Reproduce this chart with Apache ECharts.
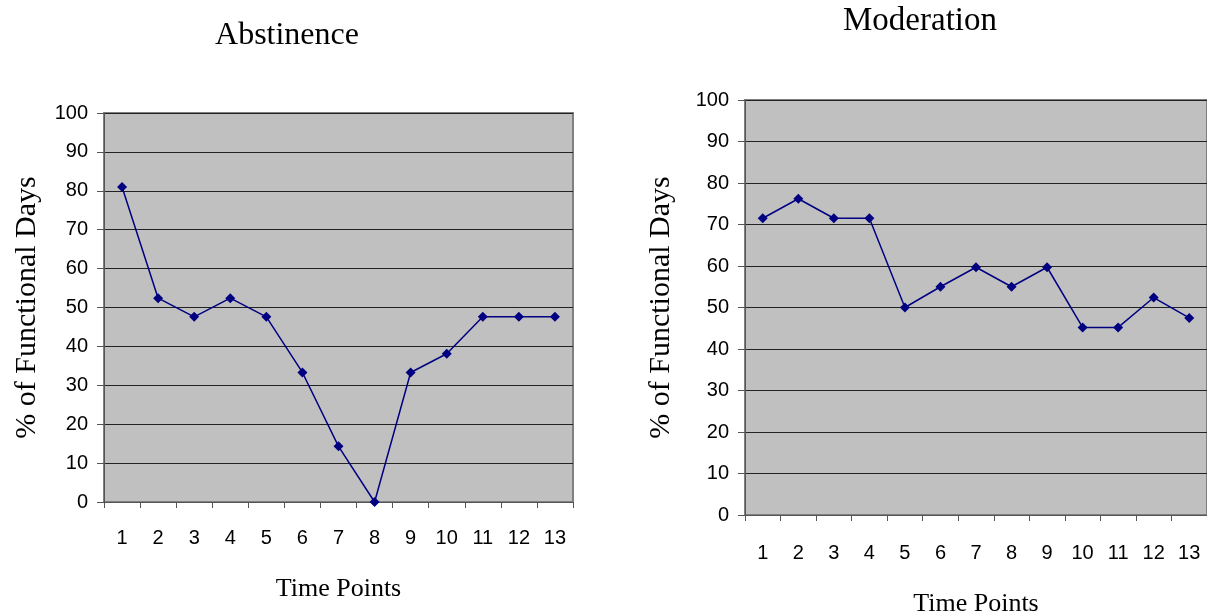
<!DOCTYPE html>
<html>
<head>
<meta charset="utf-8">
<script src="https://cdn.jsdelivr.net/npm/echarts@6/dist/echarts.min.js"></script>
<style>
html,body{margin:0;padding:0;background:#fff;}
#c{width:1207px;height:615px;}
</style>
</head>
<body>
<div id="c"></div>
<script>
const timePoints = ['1','2','3','4','5','6','7','8','9','10','11','12','13'];
const abstinence = [81.0, 52.4, 47.6, 52.4, 47.6, 33.3, 14.3, 0, 33.3, 38.1, 47.6, 47.6, 47.6];
const moderation = [71.5, 76.2, 71.5, 71.5, 50.0, 55.0, 59.7, 55.0, 59.7, 45.2, 45.2, 52.4, 47.5];
const titles = ['Abstinence', 'Moderation'];
const yName = '% of Functional Days';
const xName = 'Time Points';

const serif = '"Liberation Serif", "Times New Roman", serif';
const sans = '"Liberation Sans", Arial, sans-serif';

function xAxis(gi, margin, gap) {
  return {
    type: 'category', gridIndex: gi, data: timePoints, boundaryGap: true,
    axisLine: {lineStyle: {color: '#555', width: 1}},
    axisTick: {show: true, length: 6, alignWithLabel: false, lineStyle: {color: '#555'}},
    axisLabel: {color: '#000', fontFamily: sans, fontSize: 20, margin: margin},
    name: xName, nameLocation: 'middle', nameGap: gap,
    nameTextStyle: {color: '#000', fontFamily: serif, fontSize: 26}
  };
}
function yAxis(gi, gap) {
  return {
    type: 'value', gridIndex: gi, min: 0, max: 100, interval: 10,
    axisLine: {show: true, lineStyle: {color: '#555', width: 1}},
    axisTick: {show: true, length: 7, lineStyle: {color: '#555'}},
    axisLabel: {color: '#000', fontFamily: sans, fontSize: 20, margin: 16},
    splitLine: {show: true, lineStyle: {color: '#222', width: 1}},
    name: yName, nameLocation: 'middle', nameGap: gap, nameRotate: 90,
    nameTextStyle: {color: '#000', fontFamily: serif, fontSize: 30}
  };
}
function series(gi, data) {
  return {
    type: 'line', xAxisIndex: gi, yAxisIndex: gi, data: data,
    symbol: 'diamond', symbolSize: 10, showSymbol: true,
    lineStyle: {color: '#000080', width: 1.5},
    itemStyle: {color: '#000080'},
    animation: false
  };
}

const chart = echarts.init(document.getElementById('c'), null, {renderer: 'canvas'});
chart.setOption({
  animation: false,
  backgroundColor: '#fff',
  title: [
    {text: titles[0], left: 282, top: 15, textAlign: 'center',
     textStyle: {fontFamily: serif, fontSize: 32, fontWeight: 'normal', color: '#000'}},
    {text: titles[1], left: 915, top: 0, textAlign: 'center',
     textStyle: {fontFamily: serif, fontSize: 33, fontWeight: 'normal', color: '#000'}}
  ],
  grid: [
    {left: 104, top: 113, width: 469, height: 389, show: true, backgroundColor: '#c0c0c0', borderColor: '#808080', borderWidth: 2, outerBoundsMode: 'none', containLabel: false},
    {left: 745, top: 100, width: 462, height: 415, show: true, backgroundColor: '#c0c0c0', borderColor: '#808080', borderWidth: 2, outerBoundsMode: 'none', containLabel: false}
  ],
  xAxis: [xAxis(0, 26, 74), xAxis(1, 28, 76)],
  yAxis: [yAxis(0, 62), yAxis(1, 69)],
  series: [series(0, abstinence), series(1, moderation)]
});
</script>
</body>
</html>
